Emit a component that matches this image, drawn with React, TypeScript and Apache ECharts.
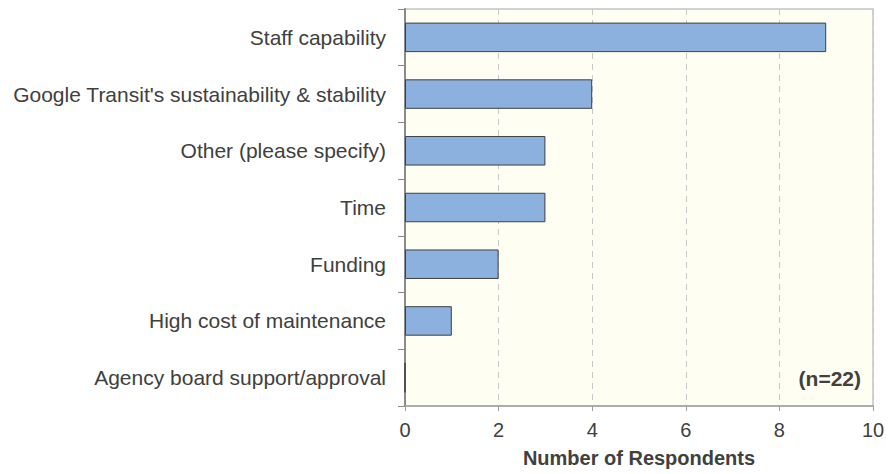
import React, { useEffect, useRef } from "react";
import * as echarts from "echarts";

const categories = [
  "Staff capability",
  "Google Transit's sustainability & stability",
  "Other (please specify)",
  "Time",
  "Funding",
  "High cost of maintenance",
  "Agency board support/approval",
];
const values = [9, 4, 3, 3, 2, 1, 0];
const xTicks = [0, 2, 4, 6, 8, 10];
const axisTitle = "Number of Respondents";
const noteText = "(n=22)";

export default function App() {
  const ref = useRef<HTMLDivElement>(null);
  useEffect(() => {
    if (!ref.current) return;
    const chart = echarts.init(ref.current, undefined, { renderer: "svg" });
    const font = "Arial, 'Liberation Sans', sans-serif";
    chart.setOption({
      animation: false,
      textStyle: { fontFamily: font },
      grid: {
        left: 405,
        right: 17,
        top: 9,
        bottom: 68,
        show: true,
        backgroundColor: "#FEFEF2",
        borderColor: "#C4C4C4",
        borderWidth: 1.5,
      },
      xAxis: {
        type: "value",
        min: xTicks[0],
        max: xTicks[xTicks.length - 1],
        interval: 2,
        name: axisTitle,
        nameLocation: "middle",
        nameGap: 42,
        nameTextStyle: { fontSize: 20, fontWeight: "bold", color: "#404040", fontFamily: font },
        axisLine: { show: true, lineStyle: { color: "#A0A0A0", width: 1.5 } },
        axisTick: { show: true, length: 5, lineStyle: { color: "#A0A0A0" } },
        axisLabel: { fontSize: 20, color: "#404040", margin: 14, fontFamily: font },
        splitLine: { show: true, lineStyle: { color: "#C8C8C8", type: [6, 5] } },
      },
      yAxis: {
        type: "category",
        data: categories,
        inverse: true,
        axisLine: { show: true, lineStyle: { color: "#8A8A8A", width: 2 } },
        axisTick: { show: true, length: 7, lineStyle: { color: "#8A8A8A" } },
        axisLabel: { fontSize: 21, color: "#404040", margin: 19, fontFamily: font },
        splitLine: { show: false },
      },
      series: [
        {
          type: "bar",
          data: values,
          barCategoryGap: "48%",
          itemStyle: { color: "#8DB1DF", borderColor: "#3F3F3F", borderWidth: 1 },
        },
      ],
      graphic: [
        {
          type: "text",
          right: 29,
          top: 368,
          style: { text: noteText, fontSize: 21, fontWeight: "bold", fill: "#404040", fontFamily: font },
        },
      ],
    });
    return () => chart.dispose();
  }, []);
  return <div ref={ref} style={{ width: 890, height: 474, position: "absolute", left: 0, top: 0 }} />;
}
